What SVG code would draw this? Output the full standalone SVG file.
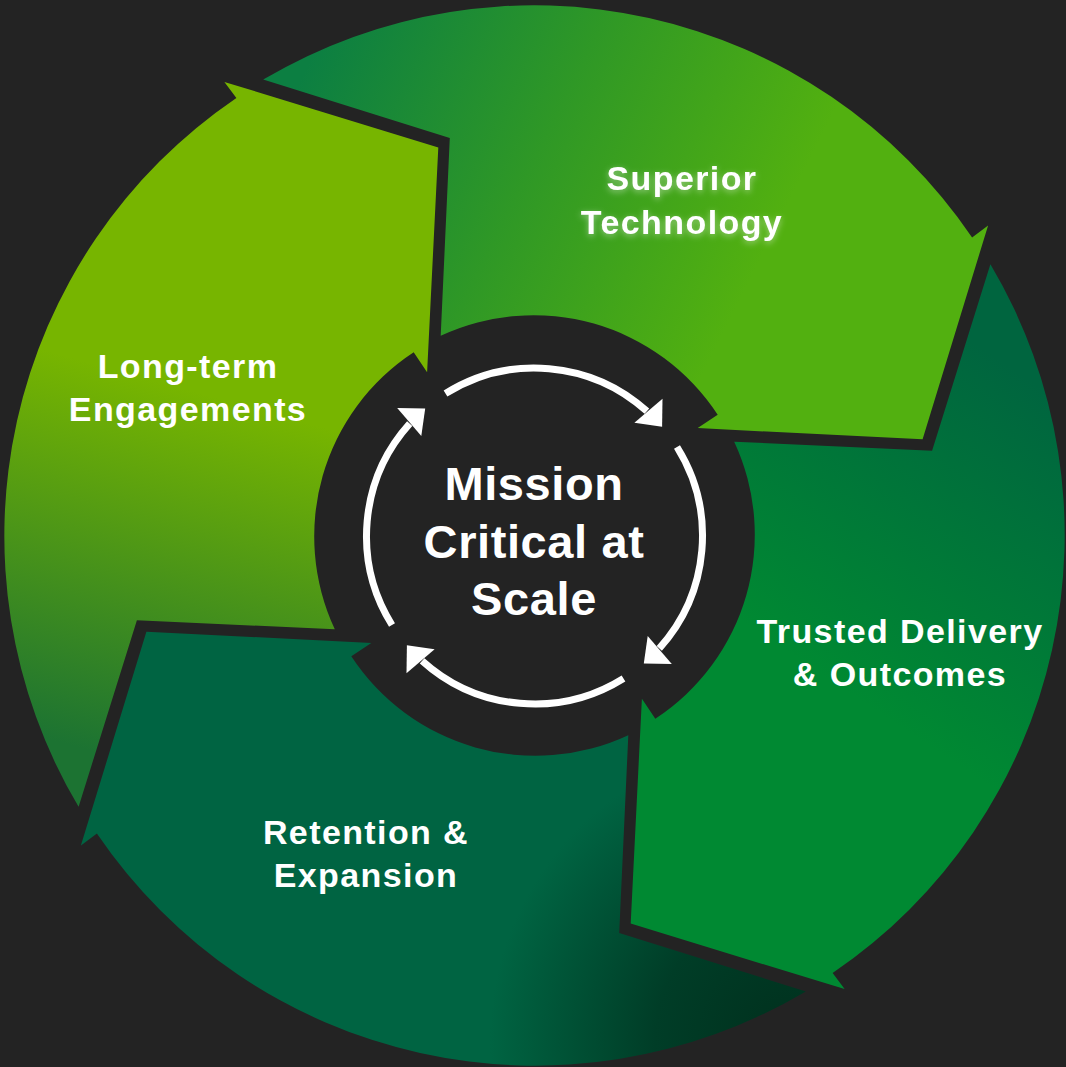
<svg xmlns="http://www.w3.org/2000/svg" width="1066" height="1067" viewBox="0 0 1066 1067">
  <defs>
    <style>
      .lbl { font-family: "Liberation Sans", Arial, sans-serif; font-weight: bold; font-size: 34px; fill: #ffffff; text-anchor: middle; letter-spacing: 1.4px; }
      .ctr { font-family: "Liberation Sans", Arial, sans-serif; font-weight: bold; font-size: 47px; fill: #ffffff; text-anchor: middle; letter-spacing: 0.6px; }
      .ring { fill: none; stroke: #ffffff; stroke-width: 7; stroke-linecap: butt; }
      .head { fill: #ffffff; }
    </style>
    <linearGradient id="g1" gradientUnits="userSpaceOnUse" x1="300" y1="80" x2="740" y2="300">
      <stop offset="0" stop-color="#0c7f42"/>
      <stop offset="0.5" stop-color="#2f9826"/>
      <stop offset="1" stop-color="#52b010"/>
    </linearGradient>
    <linearGradient id="g2" gradientUnits="userSpaceOnUse" x1="1000" y1="360" x2="800" y2="660">
      <stop offset="0" stop-color="#00653f"/>
      <stop offset="1" stop-color="#008932"/>
    </linearGradient>
    <radialGradient id="g3" gradientUnits="userSpaceOnUse" cx="790" cy="1040" r="300">
      <stop offset="0" stop-color="#00301d"/>
      <stop offset="0.45" stop-color="#003d27"/>
      <stop offset="1" stop-color="#006442"/>
    </radialGradient>
    <linearGradient id="g4" gradientUnits="userSpaceOnUse" x1="260" y1="410" x2="160" y2="770">
      <stop offset="0" stop-color="#77b500"/>
      <stop offset="1" stop-color="#1c7332"/>
    </linearGradient>
    <filter id="glow" x="-20%" y="-40%" width="140%" height="180%">
      <feGaussianBlur in="SourceAlpha" stdDeviation="3" result="b"/>
      <feFlood flood-color="#ffffff" flood-opacity="0.45"/>
      <feComposite in2="b" operator="in" result="g"/>
      <feOffset dx="0" dy="2" in="g" result="go"/>
      <feMerge>
        <feMergeNode in="go"/>
        <feMergeNode in="SourceGraphic"/>
      </feMerge>
    </filter>
  </defs>

  <rect x="0" y="0" width="1066" height="1067" fill="#232323"/>

  <g id="superior-technology">
    <path fill="url(#g1)" d="M 263.2 79.6 A 530 530 0 0 1 972.1 237.4 L 988.1 225.4 L 922.6 439.3 L 697.7 428.1 L 717.7 414.7 A 220 220 0 0 0 440.7 335.8 L 449.8 137.9 Z"/>
    <g filter="url(#glow)">
      <text class="lbl" x="682" y="190">Superior</text>
      <text class="lbl" x="682" y="234">Technology</text>
    </g>
  </g>

  <g id="trusted-delivery">
    <path fill="url(#g2)" d="M 990.4 264.2 A 530 530 0 0 1 832.6 973.1 L 844.6 989.1 L 630.7 923.6 L 641.9 698.7 L 655.3 718.7 A 220 220 0 0 0 734.2 441.7 L 932.1 450.8 Z"/>
    <text class="lbl" x="900" y="643">Trusted Delivery</text>
    <text class="lbl" x="900" y="686">&amp; Outcomes</text>
  </g>

  <g id="retention-expansion">
    <path fill="url(#g3)" d="M 805.8 991.4 A 530 530 0 0 1 96.9 833.6 L 80.9 845.6 L 146.4 631.7 L 371.3 642.9 L 351.3 656.3 A 220 220 0 0 0 628.3 735.2 L 619.2 933.1 Z"/>
    <text class="lbl" x="366" y="844">Retention &amp;</text>
    <text class="lbl" x="366" y="887">Expansion</text>
  </g>

  <g id="long-term-engagements">
    <path fill="url(#g4)" d="M 78.6 806.8 A 530 530 0 0 1 236.4 97.9 L 224.4 81.9 L 438.3 147.4 L 427.1 372.3 L 413.7 352.3 A 220 220 0 0 0 334.8 629.3 L 136.9 620.2 Z"/>
    <text class="lbl" x="188" y="378">Long-term</text>
    <text class="lbl" x="188" y="421">Engagements</text>
  </g>

  <g id="connectors">
    <g>
      <path class="ring" d="M 445.5 393.5 A 168 168 0 0 1 646.9 411.2"/>
      <polygon class="head" points="662.1,426.7 662.5,398.7 634.4,422.8"/>
    </g>
    <g transform="rotate(90 534.5 536)">
      <path class="ring" d="M 445.5 393.5 A 168 168 0 0 1 646.9 411.2"/>
      <polygon class="head" points="662.1,426.7 662.5,398.7 634.4,422.8"/>
    </g>
    <g transform="rotate(180 534.5 536)">
      <path class="ring" d="M 445.5 393.5 A 168 168 0 0 1 646.9 411.2"/>
      <polygon class="head" points="662.1,426.7 662.5,398.7 634.4,422.8"/>
    </g>
    <g transform="rotate(270 534.5 536)">
      <path class="ring" d="M 445.5 393.5 A 168 168 0 0 1 646.9 411.2"/>
      <polygon class="head" points="662.1,426.7 662.5,398.7 634.4,422.8"/>
    </g>
  </g>

  <g id="mission-critical">
    <text class="ctr" x="534" y="500">Mission</text>
    <text class="ctr" x="534" y="558">Critical at</text>
    <text class="ctr" x="534" y="615">Scale</text>
  </g>
</svg>
